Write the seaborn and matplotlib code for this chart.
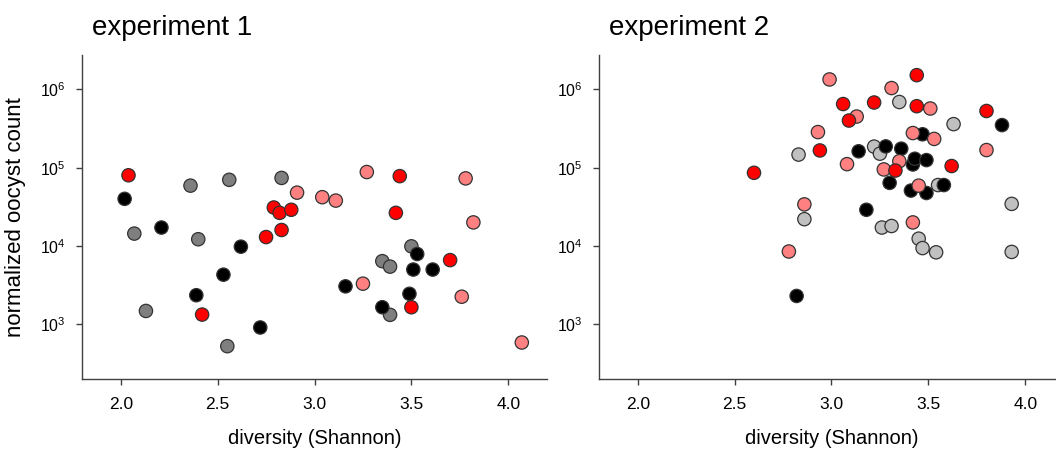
import pandas as pd
import numpy as np
import matplotlib
matplotlib.use("Agg")
import matplotlib.pyplot as plt
import seaborn as sns
from matplotlib.ticker import NullLocator, FixedLocator

# experiment 1 (Shannon diversity, normalized oocyst count)
black_x1 = [2.02, 2.21, 2.39, 2.53, 2.62, 2.72, 3.16, 3.35, 3.49, 3.51, 3.53, 3.61]
black_y1 = [4.0e4, 1.72e4, 2.35e3, 4.3e3, 9.8e3, 910, 3.05e3, 1.65e3, 2.45e3, 5.0e3, 7.9e3, 5.0e3]
grey_x1 = [2.07, 2.13, 2.36, 2.40, 2.55, 2.56, 2.83, 3.35, 3.39, 3.39, 3.50]
grey_y1 = [1.44e4, 1.48e3, 5.9e4, 1.22e4, 525, 7.0e4, 7.4e4, 6.4e3, 5.45e3, 1.32e3, 9.9e3]
red_x1 = [2.04, 2.42, 2.75, 2.79, 2.82, 2.83, 2.88, 3.42, 3.44, 3.50, 3.70]
red_y1 = [8.0e4, 1.33e3, 1.3e4, 3.1e4, 2.65e4, 1.6e4, 2.9e4, 2.65e4, 7.8e4, 1.65e3, 6.6e3]
pink_x1 = [2.91, 3.04, 3.11, 3.25, 3.27, 3.76, 3.78, 3.82, 4.07]
pink_y1 = [4.8e4, 4.2e4, 3.8e4, 3.3e3, 8.8e4, 2.25e3, 7.3e4, 2.0e4, 585]

# experiment 2
black_x2 = [2.82, 3.14, 3.18, 3.28, 3.30, 3.36, 3.41, 3.42, 3.43, 3.47, 3.49, 3.49, 3.58, 3.88]
black_y2 = [2.3e3, 1.62e5, 2.9e4, 1.87e5, 6.4e4, 1.75e5, 5.1e4, 1.1e5, 1.3e5, 2.67e5, 1.25e5, 4.75e4, 6.0e4, 3.5e5]
grey_x2 = [2.83, 2.86, 3.22, 3.25, 3.26, 3.31, 3.35, 3.45, 3.47, 3.54, 3.55, 3.63, 3.93, 3.93]
grey_y2 = [1.47e5, 2.2e4, 1.86e5, 1.51e5, 1.72e4, 1.8e4, 6.9e5, 1.24e4, 9.4e3, 8.3e3, 6.0e4, 3.6e5, 3.45e4, 8.4e3]
red_x2 = [2.60, 2.94, 3.06, 3.09, 3.22, 3.33, 3.44, 3.44, 3.62, 3.80]
red_y2 = [8.6e4, 1.66e5, 6.5e5, 4.0e5, 6.8e5, 9.2e4, 1.52e6, 6.1e5, 1.05e5, 5.3e5]
pink_x2 = [2.78, 2.86, 2.93, 2.99, 3.08, 3.13, 3.27, 3.31, 3.35, 3.42, 3.42, 3.45, 3.51, 3.53, 3.80]
pink_y2 = [8.5e3, 3.4e4, 2.85e5, 1.34e6, 1.11e5, 4.5e5, 9.5e4, 1.04e6, 1.21e5, 2.77e5, 2.0e4, 5.9e4, 5.7e5, 2.33e5, 1.68e5]

titles = ["experiment 1", "experiment 2"]
x_ticks = [2.0, 2.5, 3.0, 3.5, 4.0]
y_ticks = [1e3, 1e4, 1e5, 1e6]


def make_df(groups):
    rows = []
    for name, xs, ys in groups:
        for x, y in zip(xs, ys):
            rows.append({"group": name, "diversity": x, "count": y})
    return pd.DataFrame(rows)


df1 = make_df([("grey", grey_x1, grey_y1), ("black", black_x1, black_y1),
               ("pink", pink_x1, pink_y1), ("red", red_x1, red_y1)])
df2 = make_df([("grey", grey_x2, grey_y2), ("black", black_x2, black_y2),
               ("pink", pink_x2, pink_y2), ("red", red_x2, red_y2)])

pal1 = {"black": "#000000", "grey": "#7f7f7f", "red": "#ff0000", "pink": "#ff8080"}
pal2 = {"black": "#000000", "grey": "#c0c0c0", "red": "#ff0000", "pink": "#ff8080"}

sns.set_style("ticks")
plt.rcParams["font.family"] = ["Liberation Sans", "DejaVu Sans"]
plt.rcParams["text.color"] = "black"
plt.rcParams["axes.labelcolor"] = "black"

fig = plt.figure(figsize=(10.56, 4.49), dpi=100)
ax1 = fig.add_axes([82 / 1056, 70 / 449, 465 / 1056, 324 / 449])
ax2 = fig.add_axes([599 / 1056, 70 / 449, 465 / 1056, 324 / 449])

for ax, df, pal, title in [(ax1, df1, pal1, titles[0]), (ax2, df2, pal2, titles[1])]:
    sns.scatterplot(data=df, x="diversity", y="count", hue="group", palette=pal,
                    s=92, edgecolor="#333333", linewidth=0.9, legend=False, ax=ax,
                    zorder=3)
    ax.set_yscale("log")
    ax.set_xlim(1.8, 4.2)
    ax.set_ylim(2e2, 2.75e6)
    ax.xaxis.set_major_locator(FixedLocator(x_ticks))
    ax.set_xticklabels([f"{t:.1f}" for t in x_ticks])
    ax.yaxis.set_major_locator(FixedLocator(y_ticks))
    ax.yaxis.set_minor_locator(NullLocator())
    ax.tick_params(axis="x", labelsize=12.5, length=4, width=1, pad=9,
                   color="#404040", labelcolor="black")
    ax.tick_params(axis="y", labelsize=11.5, length=4, width=1, pad=8,
                   color="#404040", labelcolor="black")
    ax.set_xlabel("diversity (Shannon)", fontsize=14.5, labelpad=12)
    ax.set_ylabel("")
    for sp in ["left", "bottom"]:
        ax.spines[sp].set_color("#404040")
        ax.spines[sp].set_linewidth(1)
    sns.despine(ax=ax)
    ax.text(0.022, 1.062, title, transform=ax.transAxes, fontsize=20,
            ha="left", va="baseline")

ax1.set_ylabel("normalized oocyst count", fontsize=16, labelpad=10)

fig.savefig("out.png", dpi=100)
